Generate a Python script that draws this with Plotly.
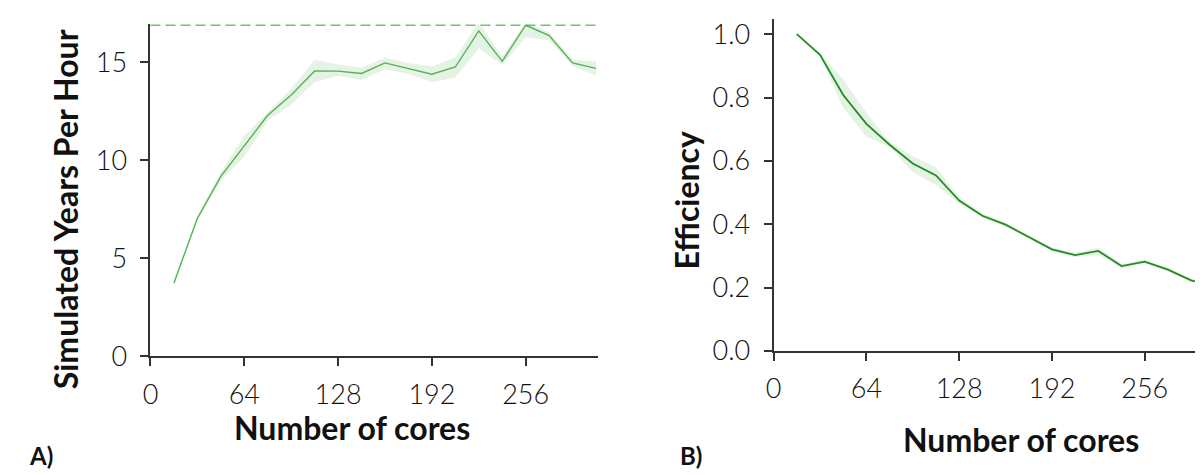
import plotly.graph_objects as go

# ---- data ----
cores = [16, 32, 48, 64, 80, 96, 112, 128, 144, 160, 176, 192, 208, 224, 240, 256, 272, 288, 304]
syph = [3.74, 7.05, 9.18, 10.75, 12.3, 13.33, 14.56, 14.55, 14.43, 14.97, 14.68, 14.39, 14.76, 16.6, 15.05, 16.89, 16.36, 14.97, 14.69]
syph_lo = [3.72, 6.95, 8.95, 10.2, 12.02, 12.84, 14.0, 14.31, 14.1, 14.64, 14.4, 13.98, 14.23, 15.7, 14.86, 16.28, 16.12, 14.81, 14.31]
syph_hi = [3.76, 7.15, 9.4, 11.27, 12.45, 13.66, 15.13, 14.89, 14.72, 15.25, 14.95, 14.8, 15.25, 17.05, 15.3, 17.05, 16.53, 15.14, 15.05]
syph_max = 16.9

eff = [1.0, 0.935, 0.808, 0.717, 0.651, 0.592, 0.554, 0.475, 0.427, 0.399, 0.360, 0.321, 0.303, 0.316, 0.268, 0.282, 0.257, 0.223, 0.205]
eff_lo = [1.0, 0.93, 0.767, 0.676, 0.645, 0.564, 0.524, 0.465, 0.42, 0.393, 0.354, 0.315, 0.296, 0.305, 0.262, 0.276, 0.252, 0.218, 0.2]
eff_hi = [1.0, 0.94, 0.858, 0.752, 0.66, 0.615, 0.58, 0.485, 0.434, 0.405, 0.366, 0.327, 0.31, 0.327, 0.274, 0.288, 0.262, 0.228, 0.21]

x_ticks = [0, 64, 128, 192, 256]
y1_ticks = [0, 5, 10, 15]
y2_ticks = [0.0, 0.2, 0.4, 0.6, 0.8, 1.0]

W, H = 1203, 475
LINE_L = "#55b255"
LINE_R = "#238c23"
BAND = "rgba(120,195,120,0.2)"
AXC = "#333333"
TICKFONT = dict(family="Lato, Open Sans, sans-serif", size=27, color="#111111", weight=300)
TITLEFONT = dict(family="Lato, Open Sans, sans-serif", size=32, color="#111111", weight="bold")

def px(x):
    return x / W

def py(y):
    return 1 - y / H

fig = go.Figure()

# left panel band + line
fig.add_trace(go.Scatter(x=cores, y=syph_hi, mode="lines", line=dict(width=0), showlegend=False,
                         xaxis="x", yaxis="y", hoverinfo="skip"))
fig.add_trace(go.Scatter(x=cores, y=syph_lo, mode="lines", line=dict(width=0), fill="tonexty",
                         fillcolor=BAND, showlegend=False, xaxis="x", yaxis="y", hoverinfo="skip"))
fig.add_trace(go.Scatter(x=cores, y=syph, mode="lines", line=dict(color=LINE_L, width=1.4),
                         showlegend=False, xaxis="x", yaxis="y"))

# right panel band + line
fig.add_trace(go.Scatter(x=cores, y=eff_hi, mode="lines", line=dict(width=0), showlegend=False,
                         xaxis="x2", yaxis="y2", hoverinfo="skip"))
fig.add_trace(go.Scatter(x=cores, y=eff_lo, mode="lines", line=dict(width=0), fill="tonexty",
                         fillcolor=BAND, showlegend=False, xaxis="x2", yaxis="y2", hoverinfo="skip"))
fig.add_trace(go.Scatter(x=cores, y=eff, mode="lines", line=dict(color=LINE_R, width=1.8),
                         showlegend=False, xaxis="x2", yaxis="y2"))

# dashed max line on left panel
fig.add_shape(type="line", xref="x domain", yref="y", x0=0, x1=1, y0=syph_max, y1=syph_max,
              line=dict(color="#3cb43c", width=1.4, dash="10px,5px"))

axis_common = dict(showline=True, linecolor=AXC, linewidth=2, ticks="outside", ticklen=8,
                   tickwidth=1.5, tickcolor=AXC, showgrid=False, zeroline=False,
                   tickfont=TICKFONT, fixedrange=True)

fig.update_layout(
    width=W, height=H,
    margin=dict(l=0, r=0, t=0, b=0),
    paper_bgcolor="white", plot_bgcolor="white",
    xaxis=dict(domain=[px(135.4), px(585.4)], range=[0, 305], tickvals=x_ticks,
               anchor="y", ticklabelstandoff=5, **axis_common),
    yaxis=dict(domain=[py(359.3), py(15)], range=[0, 16.93], tickvals=y1_ticks,
               anchor="x", ticklabelstandoff=8, **axis_common),
    xaxis2=dict(domain=[px(762.7), 1.0], range=[0, 301.7], tickvals=x_ticks,
                anchor="y2", ticklabelstandoff=5, **axis_common),
    yaxis2=dict(domain=[py(353.7), py(9.3)], range=[0, 1.048], tickvals=y2_ticks,
                tickformat=".1f", anchor="x2", ticklabelstandoff=8, **axis_common),
)

LABELFONT = dict(family="Lato, sans-serif", size=24, color="#111111", weight="bold")
ann = [
    dict(text="Number of cores", x=px(338), y=py(433), font=TITLEFONT),
    dict(text="Number of cores", x=px(1012), y=py(445), font=TITLEFONT),
    dict(text="Simulated Years Per Hour", x=px(50), y=py(207), textangle=-90, font=TITLEFONT),
    dict(text="Efficiency", x=px(675), y=py(197), textangle=-90, font=TITLEFONT),
    dict(text="A)", x=px(25), y=py(462), font=LABELFONT),
    dict(text="B)", x=px(680), y=py(462), font=LABELFONT),
]
for a in ann:
    a.update(xref="paper", yref="paper", showarrow=False, xanchor="center", yanchor="middle")
    fig.add_annotation(**a)

fig.write_html("out.html")
